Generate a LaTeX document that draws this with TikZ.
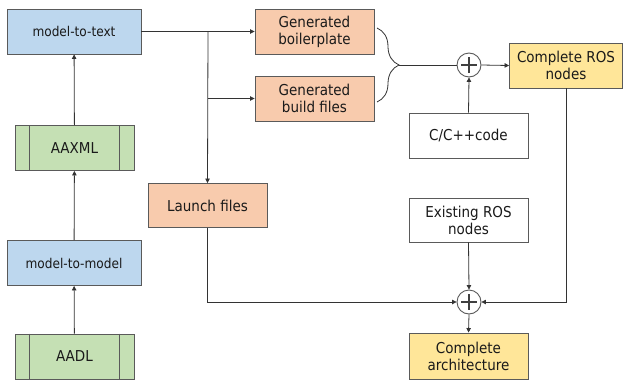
\documentclass[tikz,border=0pt]{standalone}
\usepackage{fontspec}
\setmainfont{DejaVu Sans Condensed}
\usetikzlibrary{arrows.meta,decorations.pathreplacing,calc}
\definecolor{boxline}{HTML}{5A5A5A}
\definecolor{bluefill}{HTML}{BDD7EE}
\definecolor{greenfill}{HTML}{C5E0B4}
\definecolor{orangefill}{HTML}{F8CBAD}
\definecolor{yellowfill}{HTML}{FFE699}
\definecolor{txt}{HTML}{1A1A1A}
\tikzset{
  base/.style={draw=boxline, line width=0.9pt, text=txt, align=center,
    inner sep=0pt, font=\fontsize{15}{17}\selectfont},
  process/.style={base, fill=bluefill, minimum width=134pt, minimum height=45pt,
    font=\fontsize{13.5}{16}\selectfont},
  model/.style={base, fill=greenfill, minimum width=119pt, minimum height=45pt},
  artefact/.style={base, fill=orangefill, minimum width=119pt, minimum height=45pt},
  result/.style={base, fill=yellowfill, minimum width=119pt, minimum height=45pt},
  source/.style={base, fill=white, minimum width=119pt, minimum height=45pt},
  summer/.style={circle, draw=boxline, line width=0.9pt, fill=white, minimum size=24pt, inner sep=0pt},
  conn/.style={draw=black!80, line width=0.8pt},
  arr/.style={conn, -{Triangle[length=4.5pt,width=4.5pt]}},
}
\newcommand{\plusmark}[1]{%
  \draw[line width=1.8pt, black!75] ($(#1)+(-8,0)$) -- ($(#1)+(8,0)$);
  \draw[line width=1.8pt, black!75] ($(#1)+(0,-8)$) -- ($(#1)+(0,8)$);}
\begin{document}
\begin{tikzpicture}[x=1pt, y=-1pt]
\useasboundingbox (0,0) rectangle (623,380);

% left column: models and transformations
\node[process] (m2t) at (74,31.5) {model-to-text};
\node[model] (aaxml) at (74.5,148) {AAXML};
\node[process] (m2m) at (74,263) {model-to-model};
\node[model] (aadl) at (74.5,356.5) {AADL};
\foreach \n in {aaxml,aadl}{
  \draw[boxline, line width=0.9pt] ($(\n.north west)+(15,0)$) -- ($(\n.south west)+(15,0)$);
  \draw[boxline, line width=0.9pt] ($(\n.north east)+(-15,0)$) -- ($(\n.south east)+(-15,0)$);
}

% generated artefacts
\node[artefact] (gb) at (314.5,31.5) {Generated\\boilerplate};
\node[artefact] (gbf) at (314.5,98.5) {Generated\\build files};
\node[artefact, minimum height=44pt] (launch) at (207.5,205.5) {Launch files};

% composition
\node[summer] (plus1) at (469,65) {};
\node[summer] (plus2) at (469,302) {};
\plusmark{plus1}
\plusmark{plus2}
\node[result, minimum width=113pt] (ros) at (566,65.5) {Complete ROS\\nodes};
\node[source] (cpp) at (468.5,135.5) {C/C++code};
\node[source, minimum height=44pt] (exist) at (468.5,220) {Existing ROS\\nodes};
\node[result, minimum height=46pt] (arch) at (468.5,356) {Complete\\architecture};

% connectors
\draw[arr] (aadl) -- (m2m);
\draw[arr] (m2m) -- (aaxml);
\draw[arr] (aaxml) -- (m2t);
\coordinate (split) at (208,31.5);
\coordinate (split2) at (208,98.5);
\draw[arr] (m2t.east) -- (gb.west);
\draw[arr] (split) -- (launch.north);
\draw[arr] (split2) -- (gbf.west);

\coordinate (bt) at (377,28);
\coordinate (bb) at (377,102);
\coordinate (btip) at (399,65);
\draw[conn, decorate, decoration={brace, amplitude=22pt, aspect=0.5}] (bt) -- (bb);
\draw[conn] (btip) -- (plus1.west);
\draw[arr] (plus1.east) -- (ros.west);
\draw[arr] (cpp.north) -- (plus1.south);

\draw[arr] (ros.south) |- (plus2.east);
\draw[arr] (launch.south) |- (plus2.west);
\draw[arr] (exist.south) -- (plus2.north);
\draw[arr] (plus2.south) -- (arch.north);
\end{tikzpicture}
\end{document}
